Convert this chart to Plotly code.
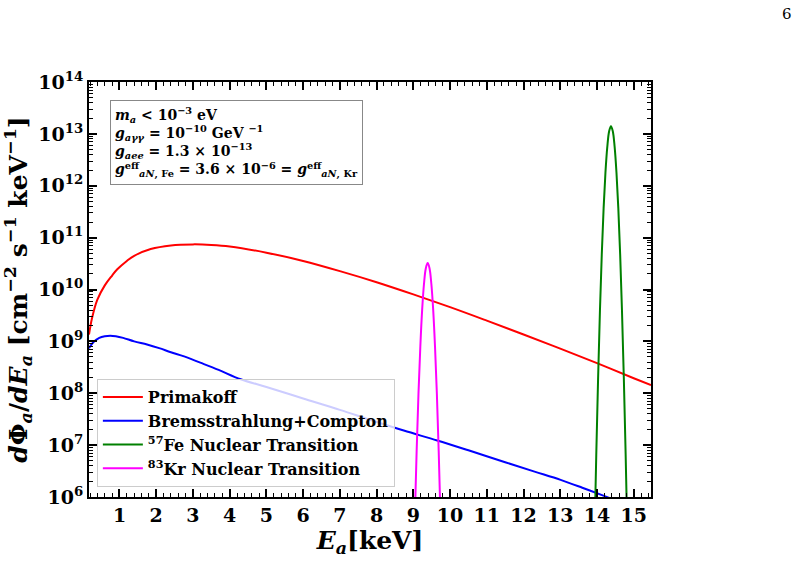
import plotly.graph_objects as go

# ---------------- data ----------------
prim_E = [0.17, 0.25, 0.395, 0.6, 0.8, 0.94, 1.2, 1.4, 1.85, 2.4, 3.0, 3.5, 4.0, 5.0,
          6.0, 7.0, 8.0, 9.0, 10.0, 11.0, 12.0, 13.0, 14.0, 15.0, 15.47]
prim_F = [1.35e9, 2.75e9, 6.3e9, 1.2e10, 1.86e10, 2.45e10, 3.55e10, 4.47e10, 6.03e10,
          7.08e10, 7.41e10, 7.24e10, 6.76e10, 5.13e10, 3.55e10, 2.26e10, 1.38e10,
          8.04e9, 4.57e9, 2.51e9, 1.36e9, 7.24e8, 3.8e8, 1.95e8, 1.43e8]

brem_E = [0.17, 0.3, 0.45, 0.6, 0.75, 0.9, 1.1, 1.4, 1.75, 2.08, 2.4, 2.76, 3.2, 3.7,
          4.3, 5.0, 6.0, 7.0, 7.9, 8.74, 9.65, 10.5, 11.5, 12.3, 13.01, 13.6, 14.19, 14.6]
brem_F = [7.4e8, 9.8e8, 1.17e9, 1.26e9, 1.29e9, 1.26e9, 1.17e9, 1.0e9, 8.7e8, 7.4e8,
          6.17e8, 5.13e8, 3.89e8, 2.82e8, 1.86e8, 1.32e8, 7.94e7, 4.79e7, 2.95e7,
          1.91e7, 1.23e7, 7.94e6, 4.68e6, 3.09e6, 2.14e6, 1.51e6, 1.05e6, 8.1e5]

fe_E = [13.93, 13.98, 14.03, 14.08, 14.13, 14.18, 14.23, 14.28, 14.33, 14.38,
        14.43, 14.48, 14.53, 14.58, 14.63, 14.68, 14.73, 14.78, 14.83]
fe_F = [1.35e5, 6.6e6, 2.0e8, 3.9e9, 4.8e10, 3.7e11, 1.8e12, 5.6e12, 1.12e13, 1.41e13,
        1.12e13, 5.6e12, 1.8e12, 3.7e11, 4.8e10, 3.9e9, 2.0e8, 6.6e6, 1.35e5]

kr_E = [9.04, 9.09, 9.14, 9.19, 9.24, 9.29, 9.34, 9.39, 9.44, 9.49, 9.54, 9.59, 9.64, 9.69, 9.74]
kr_F = [3.9e5, 7.8e6, 1.0e8, 7.9e8, 4.1e9, 1.29e10, 2.57e10, 3.24e10, 2.57e10, 1.29e10,
        4.1e9, 7.9e8, 1.0e8, 7.8e6, 3.9e5]

x_ticks = list(range(1, 16))
y_exps = list(range(6, 15))

names = ["Primakoff", "Bremsstrahlung+Compton",
         "<sup>57</sup>Fe Nuclear Transition", "<sup>83</sup>Kr Nuclear Transition"]
colors = ["#ff0000", "#0000ff", "#008000", "#ff00ff"]

FONT = "DejaVu Serif"

fig = go.Figure()
for E, F, nm, c in zip([prim_E, brem_E, fe_E, kr_E], [prim_F, brem_F, fe_F, kr_F], names, colors):
    fig.add_trace(go.Scatter(x=E, y=F, mode="lines", name="<b>" + nm + "</b>",
                             line=dict(color=c, width=2, shape="spline", smoothing=1.0)))

axis_common = dict(showline=True, linecolor="black", linewidth=2, mirror="allticks",
                   ticks="inside", ticklen=8, tickwidth=1.5, tickcolor="black",
                   showgrid=False, zeroline=False,
                   tickfont=dict(family=FONT, size=19, color="black"))

fig.update_xaxes(range=[0.17, 15.47], tickvals=x_ticks,
                 ticktext=["<b>%d</b>" % v for v in x_ticks],
                 minor=dict(dtick=0.2, ticks="inside", ticklen=4, tickcolor="black", tickwidth=1),
                 title=dict(text="<b><i>E<sub>a</sub></i>[keV]</b>",
                            font=dict(family=FONT, size=25, color="black"), standoff=4),
                 **axis_common)
fig.update_yaxes(type="log", range=[6, 14], tickvals=[10 ** e for e in y_exps],
                 ticktext=["<b>10<sup>%d</sup></b>" % e for e in y_exps],
                 minor=dict(dtick="D1", ticks="inside", ticklen=4, tickcolor="black", tickwidth=1),
                 title=dict(text="<b><i>d</i>Φ<sub><i>a</i></sub>/<i>dE</i><sub><i>a</i></sub> "
                                 "[cm<sup>−2</sup> s<sup>−1</sup> keV<sup>−1</sup>]</b>",
                            font=dict(family=FONT, size=25, color="black"), standoff=6),
                 **axis_common)

fig.add_annotation(xref="paper", yref="paper", x=0.037, y=0.957, xanchor="left", yanchor="top",
                   align="left", showarrow=False,
                   text=("<b><i>m<sub>a</sub></i> &lt; 10<sup>−3</sup> eV<br>"
                         "<i>g<sub>aγγ</sub></i> = 10<sup>−10</sup> GeV <sup>−1</sup><br>"
                         "<i>g<sub>aee</sub></i> = 1.3 × 10<sup>−13</sup><br>"
                         "<i>g</i><sup>eff</sup><sub><i>aN</i>, Fe</sub> = 3.6 × 10<sup>−6</sup> = "
                         "<i>g</i><sup>eff</sup><sub><i>aN</i>, Kr</sub></b>"),
                   font=dict(family=FONT, size=14, color="black"),
                   bordercolor="#888888", borderwidth=1, borderpad=4, bgcolor="white")

fig.add_annotation(xref="paper", yref="paper", x=1.255, y=1.19, showarrow=False,
                   text="6", font=dict(family=FONT, size=15, color="black"))

fig.update_layout(width=801, height=561, plot_bgcolor="white", paper_bgcolor="white",
                  margin=dict(l=89, r=150, t=82, b=64),
                  legend=dict(x=0.014, y=0.024, xanchor="left", yanchor="bottom",
                              bgcolor="rgba(255,255,255,0.8)", bordercolor="#cccccc",
                              borderwidth=1, font=dict(family=FONT, size=16, color="black"),
                              tracegroupgap=0, itemwidth=40))

fig.write_html("out.html")
